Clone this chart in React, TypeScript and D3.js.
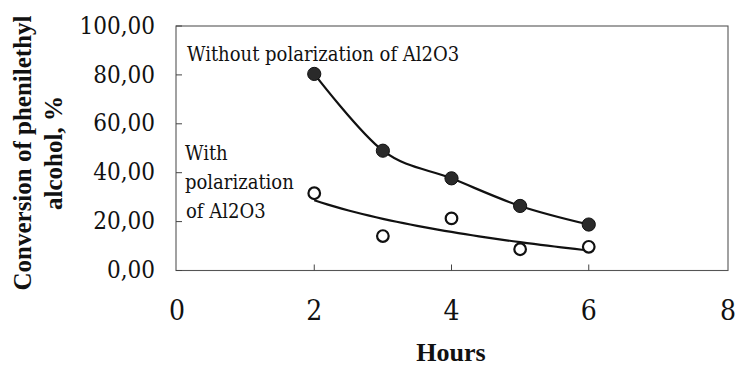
import React from "react";
import * as d3 from "d3";

// Conversion of phenilethyl alcohol (%) versus time (hours)
const hours = [2, 3, 4, 5, 6];
const withoutPolarization = [80.4, 49.0, 37.7, 26.4, 18.8];
const withPolarization = [31.6, 14.1, 21.3, 8.7, 9.7];
const xTicks = [0, 2, 4, 6, 8];
const yTicks = [0, 20, 40, 60, 80, 100];

const W = 735;
const H = 367;
const serifBold = "Liberation Serif, Times New Roman, serif";
const serifRegular = "DejaVu Serif, serif";

// Logarithmic least-squares trendline: y = a + b ln(x)
function logFit(xs: number[], ys: number[]) {
  const lx = xs.map(Math.log);
  const mx = d3.mean(lx) as number;
  const my = d3.mean(ys) as number;
  let sxy = 0;
  let sxx = 0;
  lx.forEach((v, i) => {
    sxy += (v - mx) * (ys[i] - my);
    sxx += (v - mx) * (v - mx);
  });
  const b = sxy / sxx;
  const a = my - b * mx;
  return (x: number) => a + b * Math.log(x);
}

const txt = { fontFamily: serifRegular, fontWeight: 400 as const, fontStretch: "condensed" };

export default function App() {
  const x = d3.scaleLinear().domain([0, 8]).range([177, 726]);
  const y = d3.scaleLinear().domain([0, 100]).range([270.5, 26]);

  const smooth = d3
    .line<number>()
    .x((_, i) => x(hours[i]))
    .y((d) => y(d))
    .curve(d3.curveCardinal);

  const trend = logFit(hours, withPolarization);
  const trendXs = d3.range(0, 41).map((i) => 2 + (i * 4) / 40);
  const trendPath = d3
    .line<number>()
    .x((d) => x(d))
    .y((d) => y(trend(d)))(trendXs);

  const left = x(0) - 1;
  const right = x(8) + 2;
  const top = y(100);
  const bottom = y(0);

  return (
    <svg
      width={W}
      height={H}
      style={{ position: "absolute", left: 0, top: 0, background: "#fff" }}
    >
      <rect x={0} y={0} width={W} height={H} fill="#fff" />

      {/* plot frame */}
      <rect
        x={left}
        y={top}
        width={right - left}
        height={bottom - top}
        fill="none"
        stroke="#555"
        strokeWidth={1.1}
      />

      {/* y ticks and labels */}
      {yTicks.map((t) => (
        <g key={`y${t}`}>
          <line x1={left} x2={left + 6} y1={y(t)} y2={y(t)} stroke="#444" strokeWidth={1} />
          <text
            x={155}
            y={y(t) - 1}
            dy="0.36em"
            textAnchor="end"
            fontSize={24}
            fill="#111"
            style={txt}
          >
            {t.toFixed(2).replace(".", ",")}
          </text>
        </g>
      ))}

      {/* x ticks and labels */}
      {xTicks.map((t) => (
        <g key={`x${t}`}>
          {t > 0 && t < 8 && (
            <line x1={x(t)} x2={x(t)} y1={bottom} y2={bottom - 6} stroke="#444" strokeWidth={1} />
          )}
          <text x={x(t) + (t === 8 ? 2 : 0)} y={320} textAnchor="middle" fontSize={28} fill="#111" style={txt}>
            {t}
          </text>
        </g>
      ))}

      {/* series without polarization: smoothed line through filled markers */}
      <path d={smooth(withoutPolarization) as string} fill="none" stroke="#111" strokeWidth={2.2} />
      {withoutPolarization.map((v, i) => (
        <circle key={`f${i}`} cx={x(hours[i])} cy={y(v)} r={6.6} fill="#2a2a2a" stroke="#111" strokeWidth={1} />
      ))}

      {/* series with polarization: logarithmic trendline and open markers */}
      <path d={trendPath as string} fill="none" stroke="#111" strokeWidth={2.2} />
      {withPolarization.map((v, i) => (
        <circle key={`o${i}`} cx={x(hours[i])} cy={y(v)} r={5.8} fill="#fff" stroke="#111" strokeWidth={2.2} />
      ))}

      {/* series annotations */}
      <g fontSize={20} fill="#111" style={txt}>
        <text x={187} y={61}>Without polarization of Al2O3</text>
        <text x={185} y={160}>With</text>
        <text x={185} y={189}>polarization</text>
        <text x={186} y={218}>of Al2O3</text>
      </g>

      {/* axis titles */}
      <g
        transform="translate(0,153) rotate(-90)"
        fontSize={25}
        fill="#111"
        textAnchor="middle"
        style={{ fontFamily: serifBold, fontWeight: 700 }}
      >
        <text x={0} y={31}>Conversion of phenilethyl</text>
        <text x={0} y={62}>alcohol, %</text>
      </g>
      <text
        x={451}
        y={361}
        textAnchor="middle"
        fontSize={26}
        fill="#111"
        style={{ fontFamily: serifBold, fontWeight: 700 }}
      >
        Hours
      </text>
    </svg>
  );
}
